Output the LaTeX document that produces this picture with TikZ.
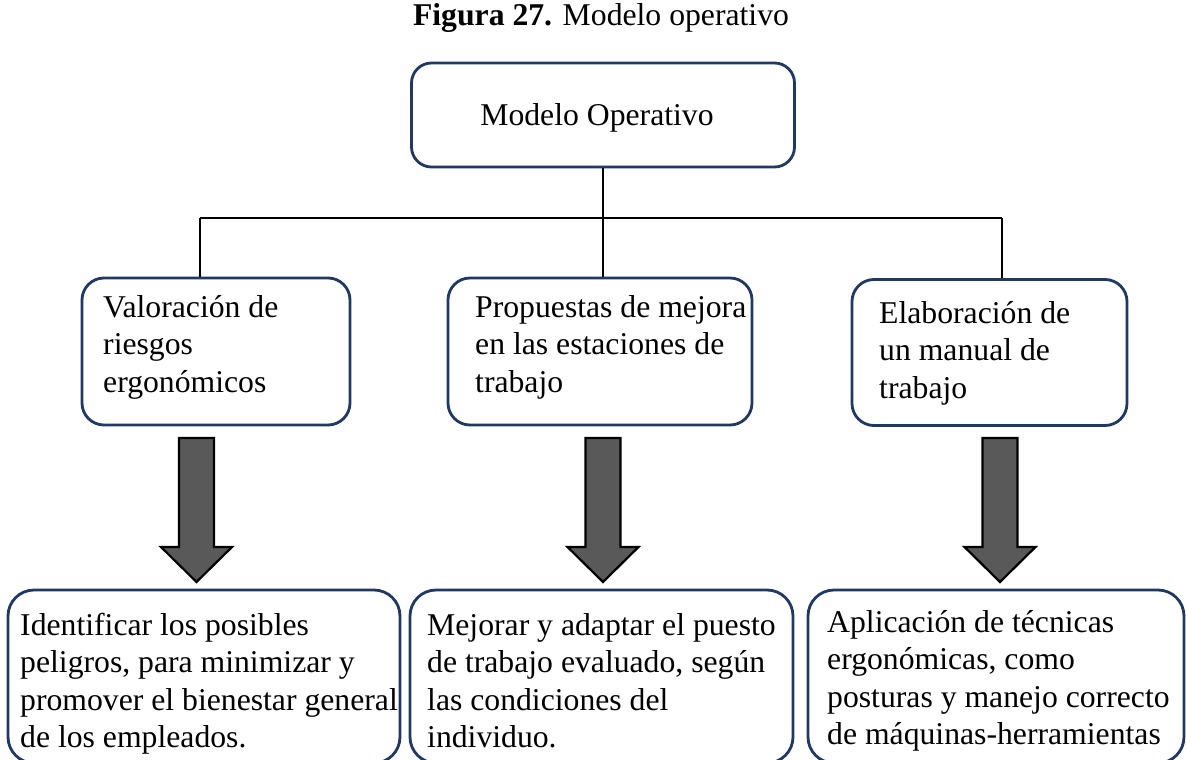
\documentclass[tikz,border=0pt]{standalone}
\usepackage{fontspec}
\setmainfont{Liberation Serif}
\usetikzlibrary{calc}
\definecolor{navy}{RGB}{31,56,100}
\definecolor{arrowgray}{RGB}{89,89,89}
\tikzset{
  x=1pt, y=-1pt,
  box/.style={draw=navy, line width=2.8pt, fill=white, rounded corners=#1, inner sep=0pt},
  box/.default=22pt,
  txt/.style={anchor=base west, inner sep=0pt, align=left, font=\fontsize{31.7}{37.5}\selectfont},
  conn/.style={draw=black, line width=1.4pt},
  bigarrow/.style={draw=black, line width=2.2pt, fill=arrowgray, line join=miter}
}
\begin{document}
\begin{tikzpicture}
\useasboundingbox (0,0) rectangle (1186,760);
\clip (0,0) rectangle (1186,760);
% title
\node[anchor=base, inner sep=0pt, font=\fontsize{31.7}{38}\selectfont] (title) at (601,26) {\textbf{Figura 27.} Modelo operativo};
% top box
\node[box=20pt, minimum width=383pt, minimum height=104pt] (top) at (603,115) {};
\node[anchor=base, inner sep=0pt, font=\fontsize{31.7}{38}\selectfont] (toptxt) at (597,125) {Modelo Operativo};
% child boxes
\node[box, minimum width=268pt, minimum height=147pt] (c1) at (216,351.5) {};
\node[box, minimum width=304pt, minimum height=147pt] (c2) at (600,351.5) {};
\node[box, minimum width=275pt, minimum height=146pt] (c3) at (989.5,352.5) {};
% (base of a multi-line node = baseline of its last line)
\node[txt] (c1t) at (103,392) {Valoración de\\riesgos\\ergonómicos};
\node[txt] (c2t) at (475,392) {Propuestas de mejora\\en las estaciones de\\trabajo};
\node[txt] (c3t) at (879,398) {Elaboración de\\un manual de\\trabajo};
% connectors
\coordinate (hl) at (200,218);
\coordinate (hm) at (603,218);
\coordinate (hr) at (1002,218);
\draw[conn] (top.south) -- (hm);
\draw[conn] (hl) -- (hr);
\draw[conn] (hl) -- (hl |- c1.north);
\draw[conn] (hm) -- (hm |- c2.north);
\draw[conn] (hr) -- (hr |- c3.north);
% bottom boxes
\node[box=26pt, minimum width=392pt, minimum height=173pt] (b1) at (204,676.5) {};
\node[box=26pt, minimum width=383pt, minimum height=173pt] (b2) at (601.5,676.5) {};
\node[box=26pt, minimum width=376pt, minimum height=173pt] (b3) at (996,676.5) {};
\node[txt] (b1t) at (20,747.5) {Identificar los posibles\\peligros, para minimizar y\\promover el bienestar general\\de los empleados.};
\node[txt] (b2t) at (427,747.5) {Mejorar y adaptar el puesto\\de trabajo evaluado, según\\las condiciones del\\individuo.};
\node[txt] (b3t) at (827,744.5) {Aplicación de técnicas\\ergonómicas, como\\posturas y manejo correcto\\de máquinas-herramientas};
% block arrows
\foreach \n/\cx in {a1/196.5, a2/603, a3/1000} {
  \coordinate (\n) at (\cx,438);
  \draw[bigarrow] ($(\n)+(-17.5,0)$) -- ($(\n)+(17.5,0)$) -- ($(\n)+(17.5,109)$) -- ($(\n)+(35.5,109)$)
     -- ($(\n)+(0,144)$) -- ($(\n)+(-35.5,109)$) -- ($(\n)+(-17.5,109)$) -- cycle;
}
\end{tikzpicture}
\end{document}
